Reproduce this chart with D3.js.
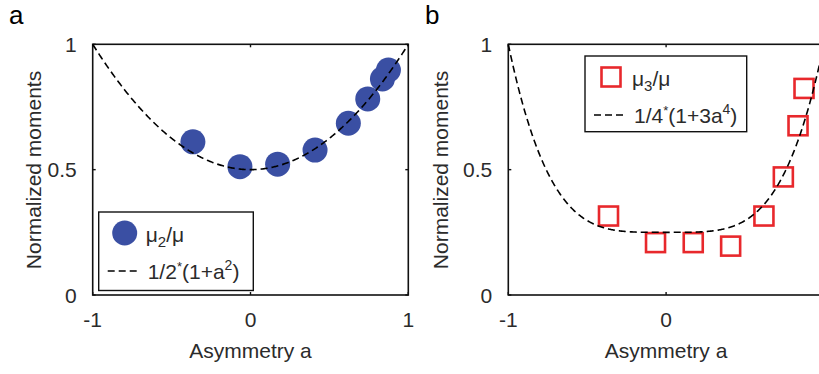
<!DOCTYPE html>
<html>
<head>
<meta charset="utf-8">
<script src="https://cdn.jsdelivr.net/npm/d3@7"></script>
<style>
  html, body { margin: 0; padding: 0; background: #fff; }
  svg text { font-family: "Liberation Sans", Arial, sans-serif; fill: #2b2b2b; }
</style>
</head>
<body>
<svg id="chart" width="819" height="374"></svg>
<script>
// measured asymmetry values and normalized moments
const asym = [-0.365, -0.067, 0.172, 0.409, 0.62, 0.743, 0.836, 0.874];
const mu2 = [0.611, 0.512, 0.522, 0.578, 0.685, 0.782, 0.862, 0.897];
const mu3 = [0.315, 0.209, 0.209, 0.195, 0.315, 0.471, 0.675, 0.824];
const xTicks = [-1, 0, 1];
const yTicks = [0, 0.5, 1];
const xTickLabels = ['-1', '0', '1'];
const yTickLabels = ['0', '0.5', '1'];

const BLUE = '#3a4fa3';
const RED = '#e8282c';
const W = 819;

const svg = d3.select('#chart');

function panel(opts) {
  const x = d3.scaleLinear().domain([-1, 1]).range([opts.left, opts.left + 315.6]);
  const y = d3.scaleLinear().domain([0, 1]).range([295, 44.3]);
  const g = svg.append('g');

  // frame
  g.append('rect')
    .attr('x', x(-1)).attr('y', y(1))
    .attr('width', x(1) - x(-1)).attr('height', y(0) - y(1))
    .attr('fill', 'none').attr('stroke', '#111').attr('stroke-width', 1.6);

  // inward ticks on all sides
  xTicks.forEach(t => {
    g.append('line').attr('x1', x(t)).attr('x2', x(t)).attr('y1', y(0)).attr('y2', y(0) - 3)
      .attr('stroke', '#111').attr('stroke-width', 1.4);
    g.append('line').attr('x1', x(t)).attr('x2', x(t)).attr('y1', y(1)).attr('y2', y(1) + 3)
      .attr('stroke', '#111').attr('stroke-width', 1.4);
  });
  yTicks.forEach(t => {
    g.append('line').attr('x1', x(-1)).attr('x2', x(-1) + 3).attr('y1', y(t)).attr('y2', y(t))
      .attr('stroke', '#111').attr('stroke-width', 1.4);
    g.append('line').attr('x1', x(1)).attr('x2', x(1) - 3).attr('y1', y(t)).attr('y2', y(t))
      .attr('stroke', '#111').attr('stroke-width', 1.4);
  });

  // tick labels (skip ones that fall past the page edge)
  g.selectAll('.xt').data(xTicks.filter(d => x(d) < W - 8)).join('text')
    .attr('x', d => x(d)).attr('y', 327)
    .attr('text-anchor', 'middle').attr('font-size', 21)
    .text(d => xTickLabels[xTicks.indexOf(d)]);
  g.selectAll('.yt').data(yTicks).join('text')
    .attr('x', x(-1) - 16).attr('y', d => y(d) + 7.5)
    .attr('text-anchor', 'end').attr('font-size', 21)
    .text((d, i) => yTickLabels[i]);

  // axis titles
  g.append('text')
    .attr('x', (x(-1) + x(1)) / 2).attr('y', 358)
    .attr('text-anchor', 'middle').attr('font-size', 21)
    .text('Asymmetry a');
  g.append('text')
    .attr('transform', `translate(${opts.ylabelX},170) rotate(-90)`)
    .attr('text-anchor', 'middle').attr('font-size', 21)
    .text('Normalized moments');

  // panel letter
  g.append('text')
    .attr('x', opts.letterX).attr('y', 23.5)
    .attr('font-size', 26)
    .style('fill', '#000')
    .text(opts.letter);

  // markers
  const pts = asym.map((a, i) => ({ a: a, v: opts.values[i] }));
  opts.drawMarkers(g, pts, x, y);

  // theory curve
  const curve = d3.range(0, 401).map(i => -1 + i * 2 / 400);
  g.append('path')
    .datum(curve)
    .attr('d', d3.line().x(a => x(a)).y(a => y(opts.fn(a))))
    .attr('fill', 'none').attr('stroke', '#000').attr('stroke-width', 1.6)
    .attr('stroke-dasharray', '7,4');

  // legend
  const L = opts.legend;
  g.append('rect')
    .attr('x', L.x).attr('y', L.y).attr('width', L.w).attr('height', L.h)
    .attr('fill', '#fff').attr('stroke', '#111').attr('stroke-width', 1.4);
  opts.legendMarker(g, L.x + 26, L.y + 21);
  const t1 = g.append('text').attr('x', L.x + 47).attr('y', L.y + 30).attr('font-size', 21);
  t1.append('tspan').text('μ');
  t1.append('tspan').attr('font-size', 15).attr('dy', 5).text(opts.sub);
  t1.append('tspan').attr('dy', -5).text('/μ');
  g.append('line')
    .attr('x1', L.x + 9).attr('x2', L.x + 42).attr('y1', L.y + 59).attr('y2', L.y + 59)
    .attr('stroke', '#000').attr('stroke-width', 1.6).attr('stroke-dasharray', '7,4');
  const t2 = g.append('text').attr('x', L.x + 49).attr('y', L.y + 67).attr('font-size', 21);
  t2.append('tspan').text(opts.formula[0]);
  t2.append('tspan').attr('font-size', 13).attr('dy', -8).text('*');
  t2.append('tspan').attr('dy', 8).text(opts.formula[1]);
  t2.append('tspan').attr('font-size', 14).attr('dy', -9).text(opts.formula[2]);
  t2.append('tspan').attr('dy', 9).text(')');
}

panel({
  left: 92.7, ylabelX: 41, letter: 'a', letterX: 9,
  values: mu2, fn: a => 0.5 * (1 + a * a), sub: '2',
  formula: ['1/2', '(1+a', '2'],
  drawMarkers: (g, pts, x, y) => {
    g.selectAll('.dot').data(pts).join('circle')
      .attr('cx', d => x(d.a)).attr('cy', d => y(d.v)).attr('r', 12.5)
      .attr('fill', BLUE);
  },
  legendMarker: (g, cx, cy) => {
    g.append('circle').attr('cx', cx).attr('cy', cy).attr('r', 12.5).attr('fill', BLUE);
  },
  legend: { x: 98.7, y: 212, w: 154.6, h: 78.5 }
});

panel({
  left: 508.3, ylabelX: 448, letter: 'b', letterX: 425,
  values: mu3, fn: a => 0.25 * (1 + 3 * Math.pow(a, 4)), sub: '3',
  formula: ['1/4', '(1+3a', '4'],
  drawMarkers: (g, pts, x, y) => {
    g.selectAll('.sq').data(pts).join('rect')
      .attr('x', d => x(d.a) - 9.5).attr('y', d => y(d.v) - 9.5)
      .attr('width', 19).attr('height', 19)
      .attr('fill', 'none').attr('stroke', RED).attr('stroke-width', 2.6);
  },
  legendMarker: (g, cx, cy) => {
    g.append('rect').attr('x', cx - 9.5).attr('y', cy - 9.5).attr('width', 19).attr('height', 19)
      .attr('fill', 'none').attr('stroke', RED).attr('stroke-width', 2.6);
  },
  legend: { x: 585, y: 56, w: 161.7, h: 75.7 }
});
</script>
</body>
</html>
